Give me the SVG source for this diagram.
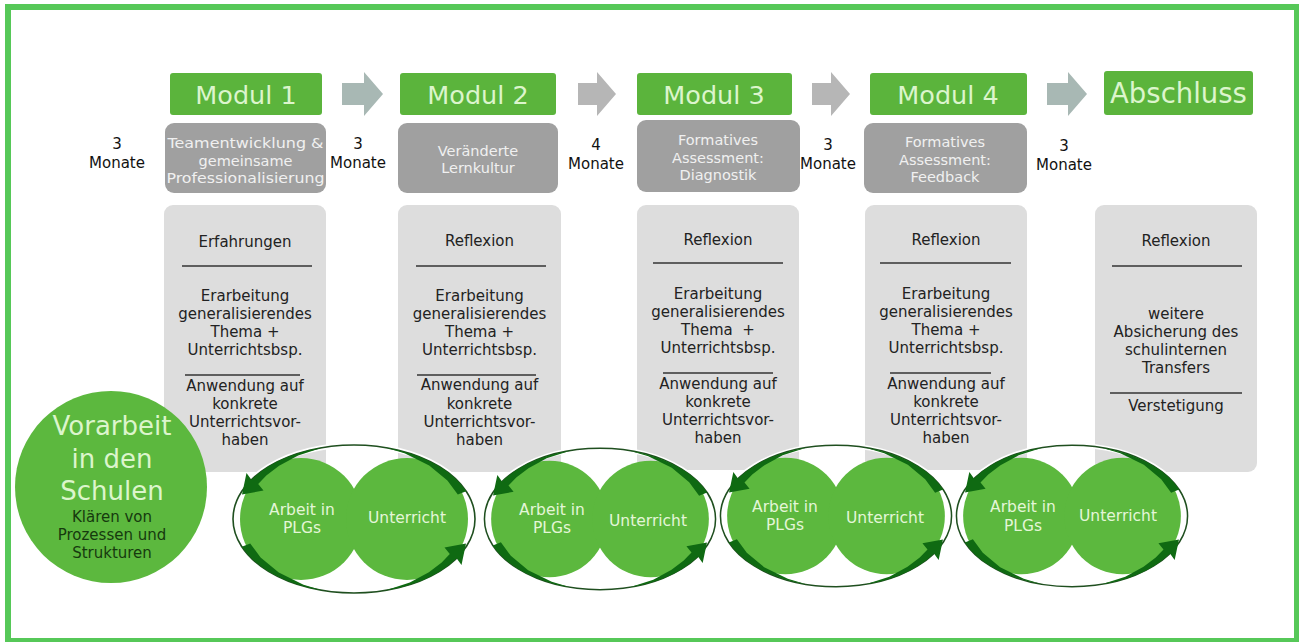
<svg xmlns="http://www.w3.org/2000/svg" xmlns:xlink="http://www.w3.org/1999/xlink" width="1299" height="642" viewBox="0 0 1299 642">
<style>
text{font-family:"DejaVu Sans",Verdana,sans-serif;text-anchor:middle}
.hdr{fill:#5bb43c}
.hdrt{fill:#dcf5cc;font-size:25.5px}
.sub{fill:#a0a0a0}
.subt{fill:#f0f0f0;font-size:14.5px}
.mon{fill:#111;font-size:15px}
.box{fill:#dddddd}
.bt{fill:#222;font-size:15px}
.rule{stroke:#333;stroke-width:1.3}
.arrA{fill:#a8b8b4}
.arrB{fill:#b6b6b6}
.green{fill:#5cb83e}
.ct{fill:#e4f6d8;font-size:15.5px}
.big{fill:#dcf5cc;font-size:26px}
.dk{fill:#163a0e;font-size:15px}
.band{fill:#0f6a12}
</style>
<defs>
<g id="cycleShape">
<ellipse cx="0" cy="0" rx="121" ry="74" fill="none" stroke="#ffffff" stroke-width="5"/>
<ellipse cx="0" cy="0" rx="121" ry="74" fill="none" stroke="#1f4f1f" stroke-width="1.6"/>
<circle cx="-53" cy="0" r="61" class="green"/>
<circle cx="53" cy="0" r="61" class="green"/>
<g id="halfArrows">
<path class="band" d="M112.2,-27.7 A121 74 0 0 0 31.3,-71.5 L50.5,-65.7 L75.2,-53.6 L93.4,-38.5 L103.8,-24.4 Z"/>
<path class="band" d="M-31.3,-71.5 A121 74 0 0 0 -102.6,-39.2 L-107.5,-46 L-112,-24.5 L-90.5,-28.5 L-95.8,-35 L-87.7,-43.4 L-74.9,-53.2 L-55.8,-63.6 Z"/>
</g>
<use xlink:href="#halfArrows" href="#halfArrows" transform="rotate(180)"/>
</g>
</defs>
<rect x="8" y="7" width="1289" height="634" fill="#ffffff" stroke="#56c858" stroke-width="6"/>

<g id="connectors">
<path class="arrA" d="M342,83 H364 V72 L383,94 L364,116 V105 H342 Z"/>
<path class="arrB" d="M578,83 H597 V72 L616,94 L597,116 V105 H578 Z"/>
<path class="arrB" d="M812,83 H831 V72 L850,94 L831,116 V105 H812 Z"/>
<path class="arrA" d="M1047,83 H1068 V72 L1087,94 L1068,116 V105 H1047 Z"/>
</g>

<g id="modul1">
<rect class="hdr" x="170" y="73" width="152" height="42" rx="3"/>
<text class="hdrt" x="246" y="104">Modul 1</text>
<rect class="sub" x="165" y="123" width="161" height="70" rx="9"/>
<text class="subt" x="245.5" y="148" textLength="156" lengthAdjust="spacingAndGlyphs">Teamentwicklung &amp;</text>
<text class="subt" x="245.5" y="165.5">gemeinsame</text>
<text class="subt" x="245.5" y="183" textLength="158" lengthAdjust="spacingAndGlyphs">Professionalisierung</text>
</g>
<g id="modul2">
<rect class="hdr" x="400" y="73" width="156" height="42" rx="3"/>
<text class="hdrt" x="478" y="104">Modul 2</text>
<rect class="sub" x="398" y="123" width="160" height="70" rx="9"/>
<text class="subt" x="478" y="156">Veränderte</text>
<text class="subt" x="478" y="173">Lernkultur</text>
</g>
<g id="modul3">
<rect class="hdr" x="637" y="73" width="155" height="42" rx="3"/>
<text class="hdrt" x="714" y="104">Modul 3</text>
<rect class="sub" x="637" y="120" width="163" height="72" rx="9"/>
<text class="subt" x="718" y="145">Formatives</text>
<text class="subt" x="718" y="162.5">Assessment:</text>
<text class="subt" x="718" y="180">Diagnostik</text>
</g>
<g id="modul4">
<rect class="hdr" x="870" y="73" width="157" height="42" rx="3"/>
<text class="hdrt" x="948" y="104">Modul 4</text>
<rect class="sub" x="864" y="123" width="163" height="70" rx="9"/>
<text class="subt" x="945" y="147">Formatives</text>
<text class="subt" x="945" y="164.5">Assessment:</text>
<text class="subt" x="945" y="182">Feedback</text>
</g>
<g id="abschluss">
<rect class="hdr" x="1104" y="71" width="149" height="44" rx="3"/>
<text class="hdrt" x="1178.5" y="103" style="font-size:27.5px">Abschluss</text>
</g>

<g id="months">
<text class="mon" x="117" y="149">3</text>
<text class="mon" x="117" y="168">Monate</text>
<text class="mon" x="358" y="149">3</text>
<text class="mon" x="358" y="168">Monate</text>
<text class="mon" x="596" y="150">4</text>
<text class="mon" x="596" y="169">Monate</text>
<text class="mon" x="828" y="150">3</text>
<text class="mon" x="828" y="169">Monate</text>
<text class="mon" x="1064" y="151">3</text>
<text class="mon" x="1064" y="170">Monate</text>
</g>

<g id="content1">
<rect class="box" x="164" y="205" width="162" height="267" rx="9"/>
<text class="bt" x="245" y="247">Erfahrungen</text>
<line class="rule" x1="182" y1="266" x2="312" y2="266"/>
<text class="bt" x="245" y="301">Erarbeitung</text>
<text class="bt" x="245" y="319">generalisierendes</text>
<text class="bt" x="245" y="337">Thema +</text>
<text class="bt" x="245" y="355">Unterrichtsbsp.</text>
<line class="rule" x1="185" y1="375" x2="300" y2="375"/>
<text class="bt" x="245" y="391">Anwendung auf</text>
<text class="bt" x="245" y="409">konkrete</text>
<text class="bt" x="245" y="427">Unterrichtsvor-</text>
<text class="bt" x="245" y="445">haben</text>
</g>
<g id="content2">
<rect class="box" x="398" y="205" width="163" height="267" rx="9"/>
<text class="bt" x="479.5" y="246">Reflexion</text>
<line class="rule" x1="416" y1="266" x2="546" y2="266"/>
<text class="bt" x="479.5" y="301">Erarbeitung</text>
<text class="bt" x="479.5" y="319">generalisierendes</text>
<text class="bt" x="479.5" y="337">Thema +</text>
<text class="bt" x="479.5" y="355">Unterrichtsbsp.</text>
<line class="rule" x1="417" y1="375" x2="536" y2="375"/>
<text class="bt" x="479.5" y="390">Anwendung auf</text>
<text class="bt" x="479.5" y="409">konkrete</text>
<text class="bt" x="479.5" y="427">Unterrichtsvor-</text>
<text class="bt" x="479.5" y="445">haben</text>
</g>
<g id="content3">
<rect class="box" x="637" y="205" width="162" height="265" rx="9"/>
<text class="bt" x="718" y="245">Reflexion</text>
<line class="rule" x1="653" y1="263" x2="783" y2="263"/>
<text class="bt" x="718" y="299">Erarbeitung</text>
<text class="bt" x="718" y="317">generalisierendes</text>
<text class="bt" x="718" y="335" style="white-space:pre">Thema  +</text>
<text class="bt" x="718" y="353">Unterrichtsbsp.</text>
<line class="rule" x1="663" y1="373" x2="773" y2="373"/>
<text class="bt" x="718" y="389">Anwendung auf</text>
<text class="bt" x="718" y="407">konkrete</text>
<text class="bt" x="718" y="425">Unterrichtsvor-</text>
<text class="bt" x="718" y="443">haben</text>
</g>
<g id="content4">
<rect class="box" x="865" y="205" width="162" height="265" rx="9"/>
<text class="bt" x="946" y="245">Reflexion</text>
<line class="rule" x1="880" y1="263" x2="1011" y2="263"/>
<text class="bt" x="946" y="299">Erarbeitung</text>
<text class="bt" x="946" y="317">generalisierendes</text>
<text class="bt" x="946" y="335">Thema +</text>
<text class="bt" x="946" y="353">Unterrichtsbsp.</text>
<line class="rule" x1="890" y1="373" x2="991" y2="373"/>
<text class="bt" x="946" y="389">Anwendung auf</text>
<text class="bt" x="946" y="407">konkrete</text>
<text class="bt" x="946" y="425">Unterrichtsvor-</text>
<text class="bt" x="946" y="443">haben</text>
</g>
<g id="content5">
<rect class="box" x="1095" y="205" width="162" height="267" rx="9"/>
<text class="bt" x="1176" y="246">Reflexion</text>
<line class="rule" x1="1112" y1="266" x2="1242" y2="266"/>
<text class="bt" x="1176" y="319">weitere</text>
<text class="bt" x="1176" y="337">Absicherung des</text>
<text class="bt" x="1176" y="355">schulinternen</text>
<text class="bt" x="1176" y="373">Transfers</text>
<line class="rule" x1="1110" y1="393" x2="1242" y2="393"/>
<text class="bt" x="1176" y="411">Verstetigung</text>
</g>

<g id="vorarbeit">
<circle class="green" cx="111" cy="487" r="96"/>
<text class="big" x="112" y="435">Vorarbeit</text>
<text class="big" x="112" y="468">in den</text>
<text class="big" x="112" y="500">Schulen</text>
<text class="dk" x="112" y="522">Klären von</text>
<text class="dk" x="112" y="540">Prozessen und</text>
<text class="dk" x="112" y="558">Strukturen</text>
</g>

<g id="cycle1">
<use xlink:href="#cycleShape" href="#cycleShape" transform="translate(354,519)"/>
<text class="ct" x="302" y="515">Arbeit in</text>
<text class="ct" x="302" y="533">PLGs</text>
<text class="ct" x="407" y="523">Unterricht</text>
</g>
<g id="cycle2">
<use xlink:href="#cycleShape" href="#cycleShape" transform="translate(600,519) scale(0.955)"/>
<text class="ct" x="552" y="515">Arbeit in</text>
<text class="ct" x="552" y="533">PLGs</text>
<text class="ct" x="648" y="526">Unterricht</text>
</g>
<g id="cycle3">
<use xlink:href="#cycleShape" href="#cycleShape" transform="translate(836,516) scale(0.955)"/>
<text class="ct" x="785" y="512">Arbeit in</text>
<text class="ct" x="785" y="530">PLGs</text>
<text class="ct" x="885" y="523">Unterricht</text>
</g>
<g id="cycle4">
<use xlink:href="#cycleShape" href="#cycleShape" transform="translate(1072,516) scale(0.955)"/>
<text class="ct" x="1023" y="512">Arbeit in</text>
<text class="ct" x="1023" y="531">PLGs</text>
<text class="ct" x="1118" y="521">Unterricht</text>
</g>
</svg>
